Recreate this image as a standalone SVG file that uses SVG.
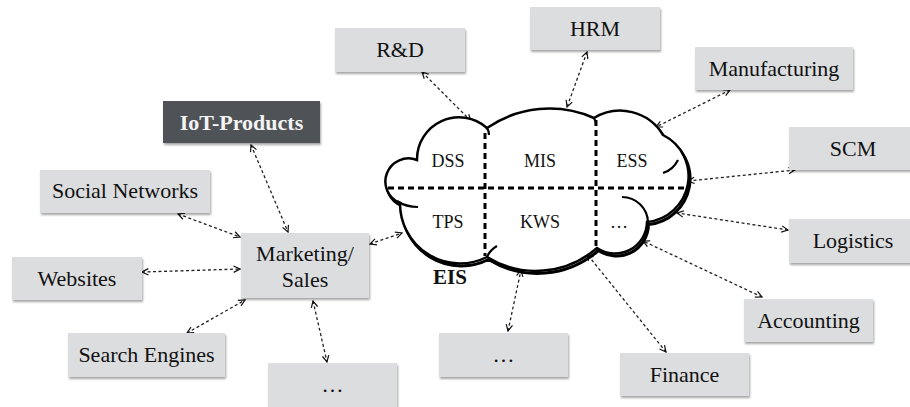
<svg xmlns="http://www.w3.org/2000/svg" width="910" height="407" viewBox="0 0 910 407">
<style>
.box{fill:#dcdddf;filter:url(#sh)}
.dark{fill:#4f5258;filter:url(#sh)}
.t{font-family:"Liberation Serif","Times New Roman",serif;font-size:22px;fill:#111;text-anchor:middle}
.tw{font-family:"Liberation Serif","Times New Roman",serif;font-size:22px;font-weight:bold;fill:#f4f4f4;text-anchor:middle}
.c{font-family:"Liberation Serif","Times New Roman",serif;font-size:18px;fill:#111;text-anchor:middle}
.conn line{stroke:#222;stroke-width:1.3;stroke-dasharray:3 2.5;marker-start:url(#ah);marker-end:url(#ah)}
.div{stroke:#000;stroke-width:3;stroke-dasharray:6 4;fill:none}
.hook{fill:none;stroke:#000;stroke-width:2.2}
</style>
<defs>
<filter id="sh" x="-10%" y="-10%" width="125%" height="135%">
<feDropShadow dx="1" dy="2" stdDeviation="1.2" flood-color="#000" flood-opacity="0.35"/>
</filter>
<marker id="ah" viewBox="0 0 10 10" refX="9" refY="5" markerWidth="8" markerHeight="8" markerUnits="userSpaceOnUse" orient="auto-start-reverse">
<path d="M1,1 L9,5 L1,9" fill="none" stroke="#111" stroke-width="1.5" stroke-dasharray="none"/>
</marker>
</defs>
<rect width="910" height="407" fill="#fff"/>

<g id="connectors" class="conn">
<line x1="422" y1="72" x2="471" y2="121"/>
<line x1="587" y1="52" x2="567" y2="107"/>
<line x1="730" y1="90" x2="656" y2="127"/>
<line x1="795" y1="170" x2="688" y2="181"/>
<line x1="788" y1="230" x2="677" y2="213"/>
<line x1="762" y1="297" x2="643" y2="241"/>
<line x1="666" y1="352" x2="587" y2="254"/>
<line x1="508" y1="331" x2="521" y2="270"/>
<line x1="370" y1="244" x2="402" y2="233"/>
<line x1="251" y1="145" x2="288" y2="232"/>
<line x1="178" y1="214" x2="240" y2="237"/>
<line x1="142" y1="272" x2="240" y2="269"/>
<line x1="187" y1="333" x2="245" y2="300"/>
<line x1="313" y1="301" x2="327" y2="362"/>
</g>

<g id="eis">
<path transform="translate(1.5,2.5)" fill="none" stroke="#000" stroke-width="3" d="M400 203 A23 23 0 0 1 417 160 A42 42 0 0 1 487 128 A110 110 0 0 1 594 118 A50 50 0 0 1 663 135 A46 46 0 0 1 647 222 A32 32 0 0 1 597 248 A93 93 0 0 1 487 257 A60 60 0 0 1 400 203 Z"/>
<path fill="#fff" stroke="#000" stroke-width="2.5" d="M400 203 A23 23 0 0 1 417 160 A42 42 0 0 1 487 128 A110 110 0 0 1 594 118 A50 50 0 0 1 663 135 A46 46 0 0 1 647 222 A32 32 0 0 1 597 248 A93 93 0 0 1 487 257 A60 60 0 0 1 400 203 Z"/>
<path class="hook" d="M397 201 Q406 207 418 207"/>
<path class="hook" d="M486 127 Q489 130 489 135"/>
<path class="hook" d="M594 118 Q596 121 596 126"/>
<path class="hook" d="M663 173 Q673 170 678 160"/>
<path class="hook" d="M622 197 A26 26 0 0 1 648 222"/>
<path class="hook" d="M487 257 Q490 250 497 246"/>
<line class="div" x1="388" y1="188" x2="687" y2="188"/>
<line class="div" x1="485" y1="133" x2="485" y2="256"/>
<line class="div" x1="596" y1="120" x2="596" y2="247"/>
<text class="c" x="448" y="167">DSS</text>
<text class="c" x="540" y="167">MIS</text>
<text class="c" x="632" y="167">ESS</text>
<text class="c" x="448" y="228">TPS</text>
<text class="c" x="540" y="228">KWS</text>
<text class="c" x="619" y="228">…</text>
<text x="433" y="284" font-family="Liberation Serif, Times New Roman, serif" font-size="21" font-weight="bold" fill="#111">EIS</text>
</g>

<g id="rd"><rect class="box" x="335" y="28" width="130" height="44"/><text class="t" x="400" y="57">R&amp;D</text></g>
<g id="hrm"><rect class="box" x="530" y="7" width="130" height="43"/><text class="t" x="595" y="35.5">HRM</text></g>
<g id="manufacturing"><rect class="box" x="695" y="47" width="158" height="43"/><text class="t" x="774" y="75.5">Manufacturing</text></g>
<g id="scm"><rect class="box" x="789" y="127" width="128" height="43"/><text class="t" x="853" y="155.5">SCM</text></g>
<g id="logistics"><rect class="box" x="789" y="219" width="128" height="44"/><text class="t" x="853" y="248">Logistics</text></g>
<g id="accounting"><rect class="box" x="744" y="299" width="129" height="43"/><text class="t" x="808.5" y="327.5">Accounting</text></g>
<g id="finance"><rect class="box" x="620" y="353" width="129" height="43"/><text class="t" x="684.5" y="381.5">Finance</text></g>
<g id="other-eis"><rect class="box" x="439" y="333" width="129" height="44"/><text class="t" x="503.5" y="362">…</text></g>
<g id="other-marketing"><rect class="box" x="268" y="363" width="129" height="46"/><text class="t" x="332.5" y="392">…</text></g>
<g id="marketing"><rect class="box" x="241" y="233" width="128" height="65"/><text class="t" x="305" y="261">Marketing/</text><text class="t" x="305" y="287">Sales</text></g>
<g id="iot"><rect class="dark" x="163" y="101" width="157" height="42"/><text class="tw" x="241.5" y="130">IoT-Products</text></g>
<g id="social"><rect class="box" x="40" y="170" width="170" height="43"/><text class="t" x="125" y="198">Social Networks</text></g>
<g id="websites"><rect class="box" x="12" y="257" width="130" height="43"/><text class="t" x="77" y="285.5">Websites</text></g>
<g id="search"><rect class="box" x="68" y="333" width="157" height="44"/><text class="t" x="146.5" y="362">Search Engines</text></g>
</svg>
